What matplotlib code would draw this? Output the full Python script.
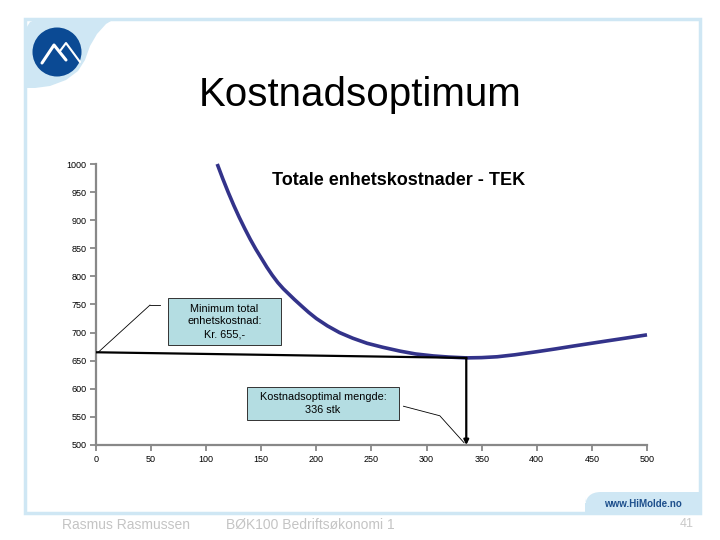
import numpy as np
import matplotlib
matplotlib.use("Agg")
from matplotlib import pyplot as plt
from matplotlib.patches import Rectangle, Circle, Polygon, FancyBboxPatch

plt.rcParams['font.family'] = ['Liberation Sans', 'DejaVu Sans']

# values
mengde = [110, 115, 120, 125, 130, 135, 140, 145, 150, 155, 160, 165, 170, 175, 180, 187,
          193, 200, 210, 221, 233, 246, 260, 276, 290, 306, 320, 336, 350, 364, 380, 400,
          417, 433, 448, 463, 480, 500]
tek = [1000, 974, 949.5, 926.5, 905, 885, 866, 848.5, 832.5, 816.5, 802, 789, 778, 768.5,
       759, 746.5, 736, 725, 712, 700, 690, 681, 674, 667, 662, 658.5, 656.5, 655, 655.5,
       657, 660.5, 666, 671, 676, 680.5, 685, 690, 696]
opt_q = 336
opt_tek = 655
x_ticks = [0, 50, 100, 150, 200, 250, 300, 350, 400, 450, 500]
y_ticks = [500, 550, 600, 650, 700, 750, 800, 850, 900, 950, 1000]

fig = plt.figure(figsize=(7.2, 5.4), dpi=100)

# slide background in pixel coordinates
bg = fig.add_axes([0, 0, 1, 1])
bg.set_xlim(0, 720)
bg.set_ylim(540, 0)
bg.axis('off')
frame_col = '#cfe7f4'
bg.add_patch(Rectangle((25, 19), 675, 494, fill=False, ec=frame_col, lw=2.5))
# top-left swoosh
sw_x = [25, 25, 30, 40, 116, 106, 97, 90, 85, 78, 66, 50, 35, 27]
sw_y = [88, 30, 22, 18, 18, 24, 34, 46, 60, 71, 80, 86, 88, 88]
bg.add_patch(Polygon(list(zip(sw_x, sw_y)), closed=True, fc=frame_col, ec='none'))
bg.add_patch(Circle((57, 52), 24.5, fc='#0b4a94', ec='none'))
bg.plot([42, 54, 66], [63, 45, 60], color='white', lw=2.2, solid_capstyle='round')
bg.plot([60, 66, 80], [51, 43, 62], color='white', lw=1.5, solid_capstyle='round')
# bottom-right tab
bg.add_patch(FancyBboxPatch((585, 492), 114, 21, boxstyle='round,pad=0,rounding_size=16',
                            fc=frame_col, ec='none'))
bg.add_patch(Rectangle((640, 492), 59, 21, fc=frame_col, ec='none'))
bg.add_patch(Rectangle((585, 503), 60, 10, fc=frame_col, ec='none'))
bg.text(643, 504, 'www.HiMolde.no', color='#1d4f8c', fontsize=7, fontweight='bold',
        ha='center', va='center')

bg.text(360, 95, 'Kostnadsoptimum', fontsize=29, ha='center', va='center')
bg.text(62, 525, 'Rasmus Rasmussen', color='#c4c4c4', fontsize=10, va='center')
bg.text(226, 525, 'BØK100 Bedriftsøkonomi 1', color='#c4c4c4', fontsize=10, va='center')
bg.text(694, 524, '41', color='#c8c8c8', fontsize=9, va='center', ha='right')

# chart
ax = fig.add_axes([96 / 720, 1 - 445 / 540, 551 / 720, 281 / 540])
ax.patch.set_alpha(0)
ax.plot(mengde, tek, color='#33338a', lw=2.6, zorder=3, clip_on=False,
        solid_joinstyle='round', solid_capstyle='butt')
ax.plot([0, opt_q], [665, opt_tek], color='black', lw=1.6, zorder=4)
ax.annotate('', xy=(opt_q, 500), xytext=(opt_q, opt_tek),
            arrowprops=dict(arrowstyle='-|>', color='black', lw=1.6, mutation_scale=7,
                            shrinkA=0, shrinkB=0), zorder=4)

ax.set_xlim(0, 500)
ax.set_ylim(500, 1000)
ax.set_xticks(x_ticks)
ax.set_yticks(y_ticks)
ax.tick_params(labelsize=6.5, length=4, width=1.3, color='#888888', pad=3)
for s in ['top', 'right']:
    ax.spines[s].set_visible(False)
for s in ['left', 'bottom']:
    ax.spines[s].set_color('#888888')
    ax.spines[s].set_linewidth(1.6)

ax.text(275, 971, 'Totale enhetskostnader - TEK', fontsize=13, fontweight='bold',
        ha='center', va='center')

box_col = '#b4dde2'
ax.add_patch(Rectangle((65, 678), 103, 84, fc=box_col, ec='#333333', lw=0.7, zorder=5))
ax.text(116.5, 720, 'Minimum total\nenhetskostnad:\nKr. 655,-', fontsize=7.8, ha='center',
        va='center', linespacing=1.35, zorder=6)
ax.plot([49, 58], [749, 749], color='black', lw=0.6)
ax.plot([49, 2], [749, 665], color='black', lw=0.6)

ax.add_patch(Rectangle((137, 545), 138, 58, fc=box_col, ec='#333333', lw=0.7, zorder=5))
ax.text(206, 574, 'Kostnadsoptimal mengde:\n336 stk', fontsize=7.8, ha='center',
        va='center', linespacing=1.35, zorder=6)
ax.plot([279, 312, 334], [569, 552, 504], color='black', lw=0.6)

fig.savefig('out.png', dpi=100)
